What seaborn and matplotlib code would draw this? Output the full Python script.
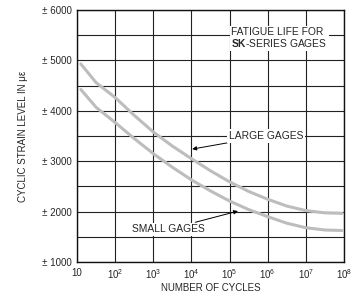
#!/usr/bin/env python3
"""
Fatigue life curves for SK-series strain gages (strain level vs. cycles).
"""

import pandas as pd
import matplotlib
matplotlib.use("Agg")
import matplotlib.pyplot as plt
import seaborn as sns

# values
cycles_log = [1.1, 1.5, 2, 2.5, 3, 3.5, 4, 4.5, 5, 5.5, 6, 6.5, 7, 7.5, 7.95]
large_gages = [4930, 4560, 4264, 3910, 3580, 3300, 3050, 2810, 2590, 2400, 2245, 2110, 2020, 1975, 1965]
small_gages = [4423, 4070, 3767, 3450, 3150, 2880, 2630, 2410, 2210, 2040, 1900, 1770, 1680, 1635, 1625]

x_ticks = [1e1, 1e2, 1e3, 1e4, 1e5, 1e6, 1e7, 1e8]
x_tick_labels = ["10"] + [r"$\mathregular{10^{%d}}$" % k for k in range(2, 9)]
y_grid = list(range(1000, 6001, 500))
y_tick_labels = [f"\u00b1 {v}" if v % 1000 == 0 else "" for v in y_grid]

sns.set_style("white")
plt.rcParams["font.family"] = ["Liberation Sans", "DejaVu Sans"]
plt.rcParams["mathtext.fontset"] = "custom"
plt.rcParams["mathtext.rm"] = "Liberation Sans"
plt.rcParams["mathtext.bf"] = "Liberation Sans:bold"

df = pd.DataFrame({
    "cycles": [10 ** v for v in cycles_log] * 2,
    "strain": large_gages + small_gages,
    "gage": ["large"] * len(cycles_log) + ["small"] * len(cycles_log),
})

fig = plt.figure(figsize=(3.57, 2.97), dpi=100)
ax = fig.add_axes([77 / 357, 1 - 262 / 297, 267 / 357, 252 / 297])

sns.lineplot(data=df, x="cycles", y="strain", hue="gage",
             palette={"large": "#bdbdbd", "small": "#bdbdbd"},
             linewidth=2.2, legend=False, ax=ax, zorder=3)

ax.set_xscale("log")
ax.set_xlim(10, 1e8)
ax.set_ylim(1000, 6000)
ax.set_xticks(x_ticks)
ax.set_xticklabels(x_tick_labels, fontsize=7)
ax.xaxis.set_minor_locator(matplotlib.ticker.NullLocator())
ax.set_yticks(y_grid)
ax.set_yticklabels(y_tick_labels, fontsize=7)
ax.tick_params(length=0, pad=4)
ax.grid(True, color="#222222", linewidth=0.8)
ax.set_axisbelow(True)
for s in ax.spines.values():
    s.set_color("#111111")
    s.set_linewidth(1.0)

ax.set_xlabel("NUMBER OF CYCLES", fontsize=7, labelpad=1.5)
ax.set_ylabel("CYCLIC STRAIN LEVEL IN \u03bc\u03b5", fontsize=7, labelpad=10)

box = dict(facecolor="white", edgecolor="none", pad=1.2)
ax.text(10 ** 5.05, 5435, "FATIGUE LIFE FOR\n$\\mathbf{SK}$-SERIES GAGES",
        fontsize=7.4, ha="left", va="center", linespacing=1.0,
        bbox=box, zorder=5)

ax.annotate("LARGE GAGES", xy=(10 ** 4.02, 3240), xytext=(10 ** 4.98, 3500),
            fontsize=7.4, ha="left", va="center", bbox=box, zorder=5,
            arrowprops=dict(arrowstyle="-|>", color="black", lw=0.7,
                            mutation_scale=6, shrinkA=1, shrinkB=0))
ax.annotate("SMALL GAGES", xy=(10 ** 5.22, 2010), xytext=(10 ** 2.45, 1650),
            fontsize=7.4, ha="left", va="center", bbox=box, zorder=5,
            arrowprops=dict(arrowstyle="-|>", color="black", lw=0.7,
                            mutation_scale=6, shrinkA=1, shrinkB=0))

fig.savefig("out.png", dpi=100)
